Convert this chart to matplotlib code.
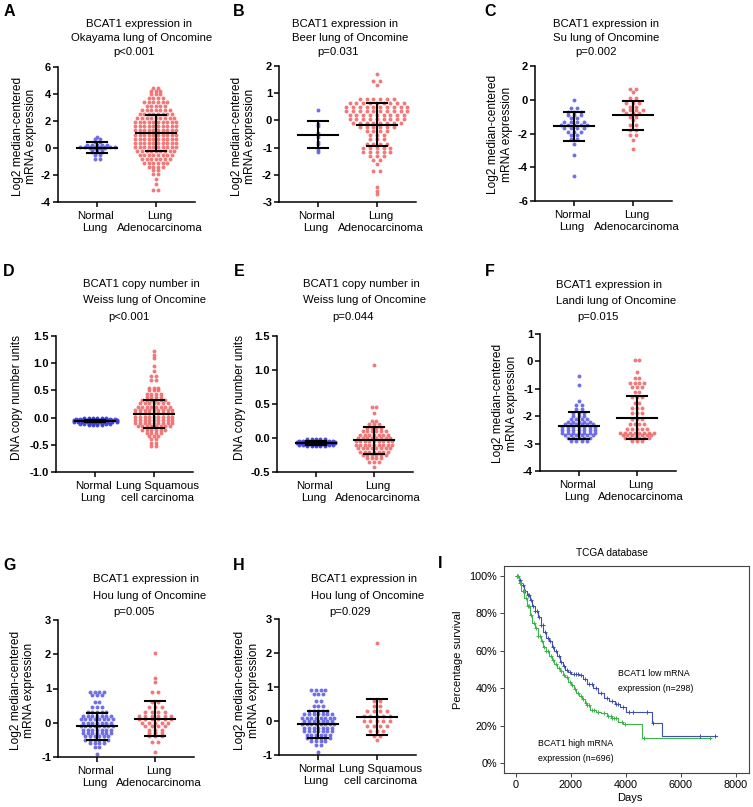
import numpy as np
import matplotlib
matplotlib.use("Agg")
import matplotlib.pyplot as plt
from matplotlib.ticker import FormatStrFormatter
from matplotlib.transforms import ScaledTranslation

plt.rcParams['font.family'] = ['Liberation Sans', 'DejaVu Sans']
plt.rcParams['axes.unicode_minus'] = False

W, H = 753, 807
BLUE = '#6262e2'
DARKBLUE = '#3a3ad6'
RED = '#f06b6b'

########## DATA: dot rows (value of row, number of dots in row) ##########
# A  Okayama
a_norm_lev = [0.8, 0.65, 0.45, 0.2, 0.1, 0.0, -0.15, -0.3, -0.55, -0.85]
a_norm_cnt = [1, 2, 2, 5, 8, 4, 3, 3, 2, 2]
a_tum_lev = [4.45, 4.25, 4.0, 3.7, 3.4, 3.1, 2.8, 2.5, 2.2, 1.9, 1.6, 1.3, 1.0, 0.7,
             0.4, 0.1, -0.2, -0.5, -0.8, -1.1, -1.4, -1.6, -1.9, -2.3, -2.7, -3.1]
a_tum_cnt = [2, 3, 3, 4, 6, 5, 7, 8, 9, 10, 10, 10, 10, 10,
             10, 10, 9, 8, 7, 6, 4, 2, 2, 1, 1, 2]
# B  Beer
b_norm_lev = [0.38, -0.15, -0.2, -0.45, -0.6, -0.8, -0.85, -1.1, -1.15]
b_norm_cnt = [1, 1, 1, 1, 1, 1, 1, 1, 1]
b_tum_lev = [1.7, 1.45, 1.3, 0.8, 0.65, 0.5, 0.35, 0.2, 0.05, -0.1, -0.25, -0.4, -0.55,
             -0.7, -0.85, -1.0, -1.15, -1.3, -1.45, -1.6, -1.85, -2.45, -2.6, -2.7]
b_tum_cnt = [1, 2, 1, 6, 9, 10, 10, 9, 9, 8, 6, 4, 3, 3, 4, 5, 5, 3, 2, 1, 2, 1, 1, 1]
# C  Su
c_norm_lev = [0.0, -0.5, -0.7, -0.9, -1.1, -1.3, -1.5, -1.7, -1.9, -2.1, -2.3, -2.6, -3.25, -4.5]
c_norm_cnt = [1, 2, 3, 3, 2, 4, 5, 4, 3, 2, 2, 1, 1, 1]
c_tum_lev = [0.65, 0.45, 0.1, -0.2, -0.4, -0.6, -0.8, -1.0, -1.2, -1.5, -1.8, -2.1, -2.4, -2.9]
c_tum_cnt = [2, 1, 2, 3, 2, 4, 3, 2, 1, 2, 2, 2, 1, 1]
# D  Weiss copy number (squamous)
d_norm_lev = [-0.01, -0.03, -0.05, -0.07, -0.09, -0.11, -0.13]
d_norm_cnt = [6, 10, 11, 11, 11, 8, 4]
d_tum_lev = [1.22, 1.15, 1.1, 0.95, 0.86, 0.76, 0.7, 0.55, 0.5, 0.43, 0.38, 0.32, 0.26,
             0.2, 0.14, 0.08, 0.02, -0.04, -0.1, -0.16, -0.22, -0.28, -0.34, -0.4, -0.46, -0.52]
d_tum_cnt = [1, 1, 1, 1, 1, 2, 2, 3, 3, 4, 4, 6, 7, 8, 9, 9, 9, 9, 9, 8, 6, 4, 3, 2, 2, 2]
# E  Weiss copy number (adenocarcinoma)
e_norm_lev = [-0.02, -0.04, -0.06, -0.08, -0.1, -0.12]
e_norm_cnt = [5, 9, 10, 10, 9, 5]
e_tum_lev = [1.08, 0.45, 0.37, 0.25, 0.2, 0.15, 0.1, 0.05, 0.0, -0.05, -0.1, -0.15,
             -0.2, -0.25, -0.3, -0.35, -0.43]
e_tum_cnt = [1, 2, 1, 2, 3, 4, 6, 7, 8, 9, 9, 8, 7, 6, 4, 3, 1]
# F  Landi
f_norm_lev = [-0.55, -0.85, -1.45, -1.6, -1.75, -1.9, -2.0, -2.1, -2.2, -2.3, -2.4,
              -2.5, -2.6, -2.7, -2.8, -2.9]
f_norm_cnt = [1, 1, 1, 2, 2, 3, 3, 4, 5, 6, 7, 7, 7, 6, 5, 4]
f_tum_lev = [0.05, -0.4, -0.6, -0.8, -0.95, -1.1, -1.3, -1.5, -1.7, -1.9, -2.1, -2.3,
             -2.45, -2.6, -2.7, -2.8, -2.9]
f_tum_cnt = [2, 1, 2, 4, 3, 2, 3, 2, 3, 3, 3, 4, 5, 8, 7, 6, 3]
# G / H  Hou
g_norm_lev = [0.9, 0.8, 0.6, 0.45, 0.3, 0.2, 0.1, 0.0, -0.1, -0.2, -0.3, -0.4, -0.5,
              -0.6, -0.7, -0.9]
g_norm_cnt = [4, 3, 2, 3, 5, 7, 8, 7, 8, 7, 7, 6, 6, 4, 2, 1]
g_tum_lev = [2.05, 1.3, 1.2, 0.9, 0.6, 0.45, 0.3, 0.2, 0.1, 0.0, -0.1, -0.2, -0.3,
             -0.4, -0.55, -0.85]
g_tum_cnt = [1, 1, 1, 2, 2, 3, 4, 6, 6, 5, 4, 3, 3, 3, 2, 1]
h_norm_lev = g_norm_lev
h_norm_cnt = g_norm_cnt
h_tum_lev = [2.3, 0.6, 0.45, 0.3, 0.15, 0.0, -0.15, -0.3, -0.45, -0.55]
h_tum_cnt = [1, 2, 2, 4, 5, 5, 4, 3, 2, 1]

# mean and SD (normal, tumour)
a_mean, a_sd = [0.02, 1.1], [0.40, 1.35]
b_mean, b_sd = [-0.53, -0.16], [0.49, 0.79]
c_mean, c_sd = [-1.57, -0.92], [0.86, 0.85]
d_mean, d_sd = [-0.065, 0.07], [0.025, 0.255]
e_mean, e_sd = [-0.075, -0.035], [0.025, 0.20]
f_mean, f_sd = [-2.35, -2.05], [0.50, 0.80]
g_mean, g_sd = [-0.10, 0.12], [0.39, 0.52]
h_mean, h_sd = [-0.10, 0.11], [0.39, 0.53]

titles = [
    ["BCAT1 expression in", "Okayama lung of Oncomine", "p<0.001"],
    ["BCAT1 expression in", "Beer lung of Oncomine", "p=0.031"],
    ["BCAT1 expression in", "Su lung of Oncomine", "p=0.002"],
    ["BCAT1 copy number in", "Weiss lung of Oncomine", "p<0.001"],
    ["BCAT1 copy number in", "Weiss lung of Oncomine", "p=0.044"],
    ["BCAT1 expression in", "Landi lung of Oncomine", "p=0.015"],
    ["BCAT1 expression in", "Hou lung of Oncomine", "p=0.005"],
    ["BCAT1 expression in", "Hou lung of Oncomine", "p=0.029"],
]
adeno = ["Normal\nLung", "Lung\nAdenocarcinoma"]
squam = ["Normal\nLung", "Lung Squamous\ncell carcinoma"]
mrna_label = "Log2 median-centered\nmRNA expression"
dna_label = "DNA copy number units"

# KM curves (TCGA)
low_t = [0, 100, 200, 300, 400, 500, 600, 700, 800, 900, 1000, 1100, 1200, 1300, 1400,
         1500, 1600, 1700, 1800, 1900, 2000, 2300, 2450, 2600, 2800, 3000, 3200, 3400,
         3600, 3800, 4000, 4950, 5300, 7300]
low_s = [100, 98, 95, 92, 90, 87, 84, 81, 78, 74, 70, 67, 65, 62, 60, 57, 54, 52, 50,
         48.5, 47.5, 47, 45, 42, 40, 37.5, 35, 33, 31.5, 30, 27.4, 21.6, 14.4, 14.4]
high_t = [0, 100, 200, 300, 400, 500, 600, 700, 800, 900, 1000, 1100, 1200, 1300, 1400,
          1500, 1600, 1700, 1800, 1900, 2000, 2100, 2200, 2300, 2400, 2500, 2600, 2700,
          2900, 3100, 3300, 3500, 3700, 3900, 4600, 7100]
high_s = [100, 96, 92, 88, 84, 79, 75, 72, 68, 65, 62, 60, 57, 55, 53, 51, 49, 47, 46,
          43.5, 41.5, 39.5, 37.5, 36, 34, 32, 31, 28.5, 27.5, 26.5, 25, 24, 22, 21, 13.2, 13.2]
low_cens = [50, 150, 250, 330, 420, 480, 560, 620, 700, 780, 850, 920, 980, 1050, 1150,
            1250, 1350, 1450, 1550, 1650, 1750, 1850, 1950, 2100, 2200, 2250, 2350, 2500,
            2650, 2750, 2900, 3100, 3300, 3500, 3650, 3700, 3900, 4100, 4250, 4750, 5000,
            6700, 7250]
high_cens = [30, 80, 130, 180, 240, 290, 350, 420, 480, 550, 640, 720, 800, 880, 950,
             1020, 1100, 1180, 1260, 1350, 1450, 1550, 1650, 1750, 1850, 1950, 2050, 2150,
             2250, 2350, 2450, 2550, 2600, 2650, 2750, 2850, 3000, 3200, 3350, 3450, 3500,
             3550, 3650, 3850, 3950, 4650, 7050]

fig = plt.figure(figsize=(W / 100, H / 100), dpi=100)


def fx(x):
    return x / W


def fy(y):
    return 1 - y / H


def add_ax(l, r, t, b):
    return fig.add_axes([fx(l), fy(b), (r - l) / W, (b - t) / H])


def dots(ax, x0, lev, cnt, step, color, ppu):
    dx = step / ppu
    for v, n in zip(lev, cnt):
        off = (np.arange(n) - (n - 1) / 2) * dx
        ax.scatter(x0 + off, np.full(n, v), s=8, color=color, lw=0, alpha=0.9, zorder=2)


def errbar(ax, x0, m, sd, ppu):
    hw, cw = 20 / ppu, 10 / ppu
    ax.plot([x0 - hw, x0 + hw], [m, m], color='k', lw=1.5, zorder=3)
    ax.plot([x0, x0], [m - sd, m + sd], color='k', lw=1.5, zorder=3)
    for yy in (m - sd, m + sd):
        ax.plot([x0 - cw, x0 + cw], [yy, yy], color='k', lw=1.5, zorder=3)


# (box l,r,t,b), ylim, yticks, data, mean/sd, cats, ylabel, ylabel pos, title pos, letter pos, step
panels = [
    ((58, 195, 67, 202), (-4, 6), np.arange(-4, 7, 2),
     (a_norm_lev, a_norm_cnt, a_tum_lev, a_tum_cnt), (a_mean, a_sd), adeno, mrna_label,
     (24.5, 136), [(86, 24), (71, 38), (113, 52)], ('A', 9, 11), (5.0, 4.6)),
    ((279, 416, 66, 202), (-3, 2), np.arange(-3, 3, 1),
     (b_norm_lev, b_norm_cnt, b_tum_lev, b_tum_cnt), (b_mean, b_sd), adeno, mrna_label,
     (243.5, 136), [(292, 24), (292, 38), (317, 52)], ('B', 239, 11), (4.5, 6.8)),
    ((535, 672, 66, 201), (-6, 2), np.arange(-6, 3, 2),
     (c_norm_lev, c_norm_cnt, c_tum_lev, c_tum_cnt), (c_mean, c_sd), adeno, mrna_label,
     (500, 134), [(553, 24), (553, 38), (575, 52)], ('C', 490, 11), (6.5, 6.5)),
    ((56, 193, 336, 472), (-1.0, 1.5), np.arange(-1.0, 1.51, 0.5),
     (d_norm_lev, d_norm_cnt, d_tum_lev, d_tum_cnt), (d_mean, d_sd), squam, dna_label,
     (17, 397), [(83, 284), (83, 300), (108, 317)], ('D', 9, 271), (4.3, 4.6)),
    ((277, 413, 336, 472), (-0.5, 1.5), np.arange(-0.5, 1.51, 0.5),
     (e_norm_lev, e_norm_cnt, e_tum_lev, e_tum_cnt), (e_mean, e_sd), adeno, dna_label,
     (240, 397), [(303, 284), (303, 300), (332, 317)], ('E', 239, 271), (4.3, 4.6)),
    ((540, 676, 334, 471), (-4, 1), np.arange(-4, 2, 1),
     (f_norm_lev, f_norm_cnt, f_tum_lev, f_tum_cnt), (f_mean, f_sd), adeno, mrna_label,
     (505, 403), [(556, 285), (556, 301), (577, 317)], ('F', 490, 272), (5.5, 4.8)),
    ((58, 194, 620, 757), (-1, 3), np.arange(-1, 4, 1),
     (g_norm_lev, g_norm_cnt, g_tum_lev, g_tum_cnt), (g_mean, g_sd), adeno, mrna_label,
     (22.5, 690), [(93, 579), (93, 596), (113, 612)], ('G', 10, 565), (4.6, 6.5)),
    ((279, 416, 619, 755), (-1, 3), np.arange(-1, 4, 1),
     (h_norm_lev, h_norm_cnt, h_tum_lev, h_tum_cnt), (h_mean, h_sd), squam, mrna_label,
     (247, 690), [(311, 579), (311, 596), (329, 612)], ('H', 239, 566), (4.6, 6.5)),
]

for i, (box, ylim, yt, dat, ms, cats, ylab, ylpos, tpos, let, steps) in enumerate(panels):
    l, r, t, b = box
    ax = add_ax(l, r, t, b)
    ppu = (r - l) / 2.34
    ax.set_xlim(-0.67, 1.67)
    ax.set_ylim(*ylim)
    ncol = DARKBLUE if i in (3, 4) else BLUE
    dots(ax, 0, dat[0], dat[1], steps[0], ncol, ppu)
    dots(ax, 1, dat[2], dat[3], steps[1], RED, ppu)
    for k in range(2):
        errbar(ax, k, ms[0][k], ms[1][k], ppu)
    for s in ('top', 'right'):
        ax.spines[s].set_visible(False)
    for s in ('left', 'bottom'):
        ax.spines[s].set_linewidth(1.1)
    ax.set_yticks(yt)
    if i in (3, 4):
        ax.yaxis.set_major_formatter(FormatStrFormatter('%.1f'))
    ax.set_xticks([0, 1])
    ax.tick_params(axis='y', length=3.5, width=1.1, labelsize=8, pad=1.5)
    ax.tick_params(axis='x', length=3.5, width=1.1, pad=3)
    ax.set_xticklabels(cats, fontsize=8.2, linespacing=1.25)
    for lab, shift in zip(ax.get_xticklabels(), (-2, 4)):
        lab.set_multialignment('center')
        lab.set_transform(lab.get_transform() +
                          ScaledTranslation(shift / 100, 0, fig.dpi_scale_trans))
    for lab in ax.get_yticklabels():
        lab.set_fontweight('bold')
    fig.text(fx(ylpos[0]), fy(ylpos[1]), ylab, rotation=90, ha='center', va='center',
             fontsize=8.6, linespacing=1.2, multialignment='center')
    for txt, (px, py) in zip(titles[i], tpos):
        fig.text(fx(px), fy(py), txt, ha='left', va='center', fontsize=8.2)
    fig.text(fx(let[1]), fy(let[2]), let[0], ha='center', va='center', fontsize=11.5,
             fontweight='bold')

# ---------------- I: KM plot ----------------
LOWC = '#3f51b0'
HIGHC = '#3cb44a'
ax = add_ax(504, 749, 566, 773)
ax.set_xlim(-436, 8473)
ax.set_ylim(-5.3, 105.3)
ax.step(low_t, low_s, where='post', color=LOWC, lw=0.8)
ax.step(high_t, high_s, where='post', color=HIGHC, lw=0.8)
lt, ls = np.array(low_t), np.array(low_s)
ht, hs = np.array(high_t), np.array(high_s)
ax.plot(low_cens, ls[np.searchsorted(lt, low_cens, side='right') - 1], '+', color=LOWC,
        ms=3.5, mew=0.7)
ax.plot(high_cens, hs[np.searchsorted(ht, high_cens, side='right') - 1], '+', color=HIGHC,
        ms=3.5, mew=0.7)
ax.set_yticks(np.arange(0, 101, 20))
ax.set_yticklabels([f"{v}%" for v in range(0, 101, 20)])
ax.set_xticks(np.arange(0, 8001, 2000))
ax.tick_params(axis='both', length=3, width=0.7, color='#444444', labelsize=7.8, pad=2)
for s in ax.spines.values():
    s.set_linewidth(0.8)
    s.set_color('#444444')
ax.text(3709, 47.6, "BCAT1 low mRNA", fontsize=6.3, ha='left', va='center')
ax.text(3709, 39.6, "expression (n=298)", fontsize=6.3, ha='left', va='center')
ax.text(800, 10.7, "BCAT1 high mRNA", fontsize=6.3, ha='left', va='center')
ax.text(800, 2.7, "expression (n=696)", fontsize=6.3, ha='left', va='center')
fig.text(fx(612), fy(553), "TCGA database", ha='center', va='center', fontsize=7.3)
fig.text(fx(630), fy(798), "Days", ha='center', va='center', fontsize=8)
fig.text(fx(458), fy(660), "Percentage survival", rotation=90, ha='center', va='center',
         fontsize=8)
fig.text(fx(440), fy(564), "I", ha='center', va='center', fontsize=11.5, fontweight='bold')

fig.savefig("out.png", dpi=100)
